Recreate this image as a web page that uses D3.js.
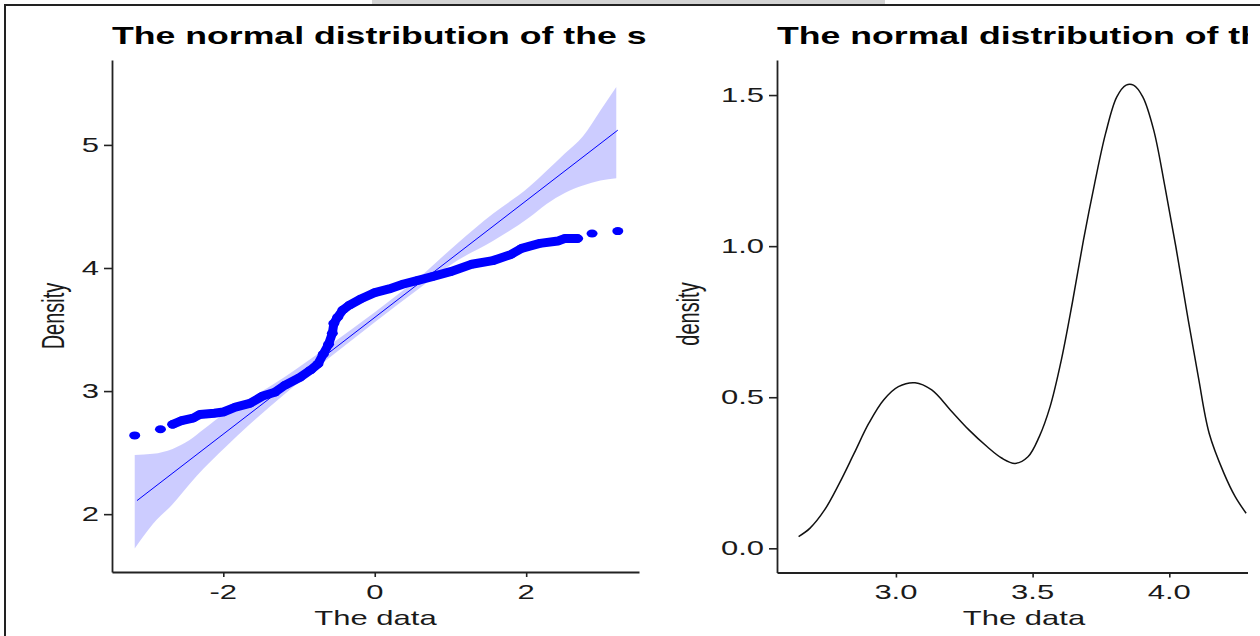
<!DOCTYPE html>
<html>
<head>
<meta charset="utf-8">
<script src="https://cdn.jsdelivr.net/npm/d3@7"></script>
<style>
  html, body { margin: 0; padding: 0; background: #fff; }
  svg { display: block; font-family: "Liberation Sans", Arial, sans-serif; }
</style>
</head>
<body>
<div id="chart"></div>
<script>
// QQ panel: theoretical vs sample quantiles
const qqTheo = [-3.17, -2.83, -2.67, -2.55, -2.40, -2.31, -2.12, -2.00, -1.84, -1.65,
  -1.48, -1.32, -1.18, -0.99, -0.85, -0.75, -0.68, -0.61, -0.56, -0.54,
  -0.49, -0.42, -0.33, -0.18, 0.00, 0.19, 0.38, 0.57, 0.76, 1.00,
  1.28, 1.56, 1.80, 1.94, 2.18, 2.42, 2.51, 2.68, 2.87, 3.21];
const qqSample = [2.64, 2.69, 2.73, 2.76, 2.78, 2.81, 2.82, 2.83, 2.87, 2.90,
  2.96, 2.99, 3.05, 3.11, 3.17, 3.22, 3.30, 3.38, 3.47, 3.55,
  3.60, 3.66, 3.70, 3.75, 3.80, 3.83, 3.87, 3.90, 3.93, 3.97,
  4.03, 4.06, 4.11, 4.16, 4.20, 4.22, 4.24, 4.24, 4.28, 4.30];

// reference line and its confidence band
const qqLineX = [-3.14, 3.21];
const qqLineY = [2.11, 5.12];
const bandX = [-3.17, -2.93, -2.67, -2.45, -2.26, -1.98, -1.65, -1.2, -0.6, 0, 0.6, 1.09, 1.56, 2.04, 2.27, 2.51, 2.75, 2.98, 3.19];
const bandLow = [1.72, 1.92, 2.08, 2.24, 2.37, 2.54, 2.73, 2.97, 3.27, 3.56, 3.84, 4.06, 4.22, 4.41, 4.52, 4.61, 4.67, 4.71, 4.73];
const bandHigh = [2.48, 2.49, 2.53, 2.60, 2.69, 2.82, 2.94, 3.11, 3.37, 3.64, 3.93, 4.20, 4.44, 4.66, 4.79, 4.93, 5.07, 5.28, 5.47];

// density panel
const densX = [2.644, 2.685, 2.739, 2.793, 2.847, 2.901, 2.955, 3.009, 3.070, 3.131,
  3.199, 3.267, 3.334, 3.388, 3.436, 3.483, 3.524, 3.564, 3.605, 3.645,
  3.686, 3.727, 3.767, 3.808, 3.842, 3.869, 3.903, 3.943, 3.984, 4.024,
  4.065, 4.106, 4.146, 4.200, 4.241, 4.281];
const densY = [0.039, 0.066, 0.127, 0.215, 0.314, 0.414, 0.491, 0.535, 0.548, 0.524,
  0.458, 0.392, 0.336, 0.298, 0.281, 0.303, 0.369, 0.469, 0.623, 0.811,
  1.020, 1.208, 1.373, 1.494, 1.533, 1.533, 1.494, 1.384, 1.197, 0.998,
  0.778, 0.568, 0.380, 0.248, 0.171, 0.116];

const leftTicksX = [-2, 0, 2];
const leftTicksY = [2, 3, 4, 5];
const rightTicksX = [3.0, 3.5, 4.0];
const rightTicksY = [0.0, 0.5, 1.0, 1.5];

const W = 1260, H = 636;
const SX = 1.55; // the picture is stretched sideways, text too

const svg = d3.select("#chart").append("svg")
  .attr("width", W).attr("height", H);

// frame of the viewer window
svg.append("rect").attr("x", 372).attr("y", 0).attr("width", 513).attr("height", 4).attr("fill", "#d4d4d4");
svg.append("line").attr("x1", 4).attr("x2", W).attr("y1", 5).attr("y2", 5).attr("stroke", "#222").attr("stroke-width", 2);
svg.append("line").attr("x1", 5).attr("x2", 5).attr("y1", 4).attr("y2", H).attr("stroke", "#222").attr("stroke-width", 2);

svg.append("clipPath").attr("id", "cut").append("rect")
  .attr("x", 0).attr("y", 0).attr("width", 1248).attr("height", H);

function addText(g, str, x, y, opts = {}) {
  const rot = opts.rotate ? " rotate(-90)" : "";
  return g.append("text")
    .attr("transform", `translate(${x},${y}) scale(${SX},1)${rot}`)
    .attr("text-anchor", opts.anchor || "middle")
    .attr("font-size", opts.size || 20)
    .attr("font-weight", opts.bold ? "bold" : "normal")
    .attr("fill", opts.color || "#1a1a1a")
    .text(str);
}

function drawAxes(g, x, y, ticksX, ticksY, fmtX, fmtY) {
  const ax = g.append("g").attr("transform", `translate(0,${y.range()[0]})`)
    .call(d3.axisBottom(x).tickValues(ticksX).tickSize(5).tickSizeOuter(0).tickFormat(""));
  const ay = g.append("g").attr("transform", `translate(${x.range()[0]},0)`)
    .call(d3.axisLeft(y).tickValues(ticksY).tickSize(8).tickSizeOuter(0).tickFormat(""));
  [ax, ay].forEach(a => {
    a.select(".domain").attr("stroke", "#222").attr("stroke-width", 1.8);
    a.selectAll(".tick line").attr("stroke", "#222").attr("stroke-width", 1.6);
  });
  ticksX.forEach(t => addText(g, fmtX(t), x(t), 599));
  ticksY.forEach(t => addText(g, fmtY(t), x.range()[0] - 13, y(t) + 7, { anchor: "end" }));
}

// ---------- left panel: QQ plot ----------
const xL = d3.scaleLinear().domain([-3.47, 3.49]).range([112, 639]);
const yL = d3.scaleLinear().domain([1.53, 5.69]).range([572, 60]);
const gL = svg.append("g");

const band = d3.range(bandX.length).map(i => ({ x: bandX[i], lo: bandLow[i], hi: bandHigh[i] }));
gL.append("path").datum(band)
  .attr("fill", "#0000ff").attr("fill-opacity", 0.2)
  .attr("d", d3.area().x(d => xL(d.x)).y0(d => yL(d.lo)).y1(d => yL(d.hi)).curve(d3.curveMonotoneX));

gL.append("line")
  .attr("x1", xL(qqLineX[0])).attr("y1", yL(qqLineY[0]))
  .attr("x2", xL(qqLineX[1])).attr("y2", yL(qqLineY[1]))
  .attr("stroke", "#0000ff").attr("stroke-width", 1);

const pts = qqTheo.map((t, i) => ({ x: t, y: qqSample[i] }));
// the crowded middle merges into one thick stroke
gL.append("path").datum(pts.slice(2, 38))
  .attr("fill", "none").attr("stroke", "#0000ff").attr("stroke-width", 9)
  .attr("stroke-linecap", "round").attr("stroke-linejoin", "round")
  .attr("d", d3.line().x(d => xL(d.x)).y(d => yL(d.y)));
gL.selectAll("ellipse.pt").data(pts).join("ellipse")
  .attr("class", "pt")
  .attr("cx", d => xL(d.x)).attr("cy", d => yL(d.y))
  .attr("rx", 5.5).attr("ry", 4).attr("fill", "#0000ff");

drawAxes(gL, xL, yL, leftTicksX, leftTicksY, d => String(d), d => String(d));
addText(gL, "The data", (112 + 639) / 2, 625, { size: 20 });
addText(gL, "Density", 64, 316, { size: 20, rotate: true });
addText(gL, "The normal distribution of the s", 112, 44, { anchor: "start", size: 23, bold: true, color: "#000" });

// ---------- right panel: density ----------
const xR = d3.scaleLinear().domain([2.565, 4.372]).range([777, 1271]);
const yR = d3.scaleLinear().domain([-0.08, 1.616]).range([572.5, 60]);
const gR = svg.append("g").attr("clip-path", "url(#cut)");

gR.append("path").datum(densX.map((v, i) => ({ x: v, y: densY[i] })))
  .attr("fill", "none").attr("stroke", "#111").attr("stroke-width", 1.5)
  .attr("d", d3.line().x(d => xR(d.x)).y(d => yR(d.y)).curve(d3.curveCatmullRom));

drawAxes(gR, xR, yR, rightTicksX, rightTicksY, d => d.toFixed(1), d => d.toFixed(1));
addText(gR, "The data", (777 + 1271) / 2, 625, { size: 20 });
addText(gR, "density", 699, 314, { size: 20, rotate: true });
addText(gR, "The normal distribution of the sample", 777, 44, { anchor: "start", size: 23, bold: true, color: "#000" });
</script>
</body>
</html>
